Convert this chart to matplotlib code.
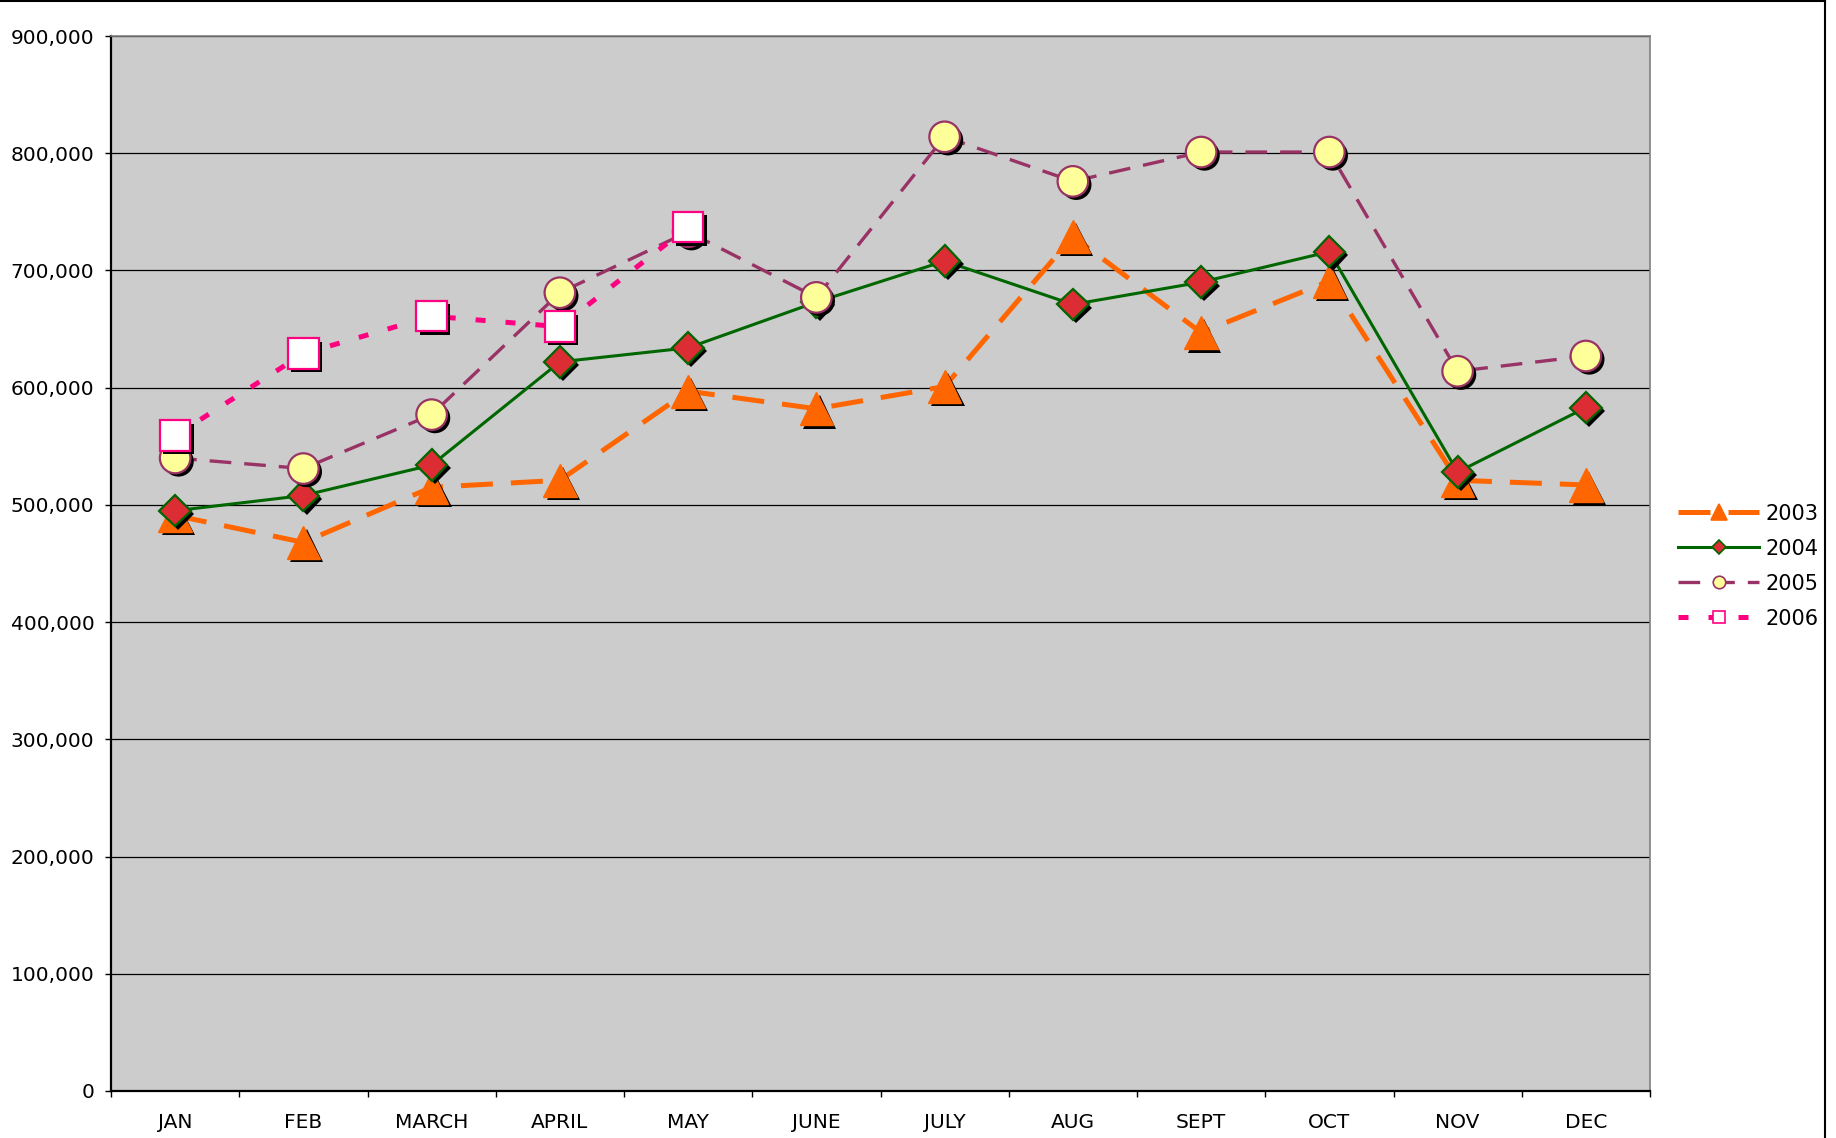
import matplotlib
matplotlib.use('Agg')
import matplotlib.pyplot as plt
from matplotlib.lines import Line2D
import matplotlib.patheffects as pe
from matplotlib.ticker import FuncFormatter, FixedLocator

months = ["JAN", "FEB", "MARCH", "APRIL", "MAY", "JUNE", "JULY", "AUG", "SEPT", "OCT", "NOV", "DEC"]
sales_2003 = [491000, 468000, 515000, 521000, 597000, 582000, 601000, 729000, 647000, 691000, 521000, 517000]
sales_2004 = [495000, 508000, 534000, 622000, 634000, 673000, 708000, 671000, 690000, 716000, 528000, 583000]
sales_2005 = [540000, 531000, 577000, 681000, 733000, 677000, 814000, 776000, 801000, 801000, 614000, 627000]
sales_2006 = [559000, 629000, 661000, 652000, 737000]
series_labels = ["2003", "2004", "2005", "2006"]
y_ticks = [0, 100000, 200000, 300000, 400000, 500000, 600000, 700000, 800000, 900000]

styles = [
    dict(color='#FF6600', lw=3.6, dashes=[6.4, 3.6], marker='^', ms=24, mfc='#FF6600', mec='#FF6600', mew=1.0,
         lms=11),
    dict(color='#006600', lw=2.2, dashes=None, marker='D', ms=16, mfc='#DC2D34', mec='#006600', mew=1.6,
         lms=7.5),
    dict(color='#993366', lw=2.4, dashes=[6.5, 3.9], marker='o', ms=22, mfc='#FFFF99', mec='#993366', mew=1.6,
         lms=9),
    dict(color='#FF0080', lw=3.6, dashes=[2.0, 4.0], marker='s', ms=22, mfc='white', mec='#FF0080', mew=1.6,
         lms=8.5),
]

fig = plt.figure(figsize=(18.36, 11.38), dpi=100)
fig.patch.set_facecolor('white')
ax = fig.add_axes([111 / 1836, 47 / 1138, (1650 - 111) / 1836, (1091 - 36) / 1138])
ax.set_facecolor('#CCCCCC')

shadow = pe.SimplePatchShadow(offset=(2.4, -2.4), shadow_rgbFace='black', alpha=1.0, foreground='black')

all_series = [sales_2003, sales_2004, sales_2005, sales_2006]
handles = []
for i, (vals, st, lab) in enumerate(zip(all_series, styles, series_labels)):
    x = list(range(len(vals)))
    kw = dict(color=st['color'], lw=st['lw'], zorder=3 + 2 * i)
    if st['dashes'] is not None:
        kw['dashes'] = st['dashes']
    ax.plot(x, vals, solid_capstyle='butt', dash_capstyle='butt', **kw)
    ax.plot(x, vals, linestyle='none', marker=st['marker'], ms=st['ms'], mfc=st['mfc'], mec=st['mec'],
            mew=st['mew'], zorder=4 + 2 * i, path_effects=[shadow, pe.Normal()])
    hkw = dict(color=st['color'], lw=st['lw'], marker=st['marker'], ms=st['lms'], mfc=st['mfc'],
               mec=st['mec'], mew=1.2)
    if st['dashes'] is not None:
        hkw['dashes'] = st['dashes']
    handles.append(Line2D([], [], **hkw))

ax.set_xlim(-0.5, 11.5)
ax.set_ylim(0, 900000)
ax.yaxis.set_major_locator(FixedLocator(y_ticks))
ax.yaxis.set_major_formatter(FuncFormatter(lambda v, p: f"{int(v):,}"))
ax.xaxis.set_major_locator(FixedLocator(list(range(len(months)))))
ax.set_xticklabels(months)
ax.xaxis.set_minor_locator(FixedLocator([k - 0.5 for k in range(len(months) + 1)]))
ax.tick_params(axis='x', which='major', length=0, pad=16, labelsize=14.5, colors='black')
ax.tick_params(axis='x', which='minor', length=4.5, width=1.0, color='black')
ax.tick_params(axis='y', which='major', length=4.5, width=1.0, pad=7.5, labelsize=14.5, colors='black')

ax.grid(axis='y', color='black', lw=0.9, zorder=1)
ax.set_axisbelow(True)
for s in ['left', 'bottom']:
    ax.spines[s].set_color('black')
    ax.spines[s].set_linewidth(1.6)
for s in ['top', 'right']:
    ax.spines[s].set_color('#808080')
    ax.spines[s].set_linewidth(1.2)

leg = fig.legend(handles, series_labels, loc='center left', bbox_to_anchor=(1678 / 1836, 1 - 566 / 1138),
                 frameon=False, fontsize=15, handlelength=3.9, handletextpad=0.3, labelspacing=0.72,
                 borderpad=0, borderaxespad=0)

fig.add_artist(Line2D([0, 1825 / 1836], [1 - 1 / 1138, 1 - 1 / 1138], color='black', lw=1.5,
                      transform=fig.transFigure))
fig.add_artist(Line2D([1825 / 1836, 1825 / 1836], [0, 1], color='black', lw=1.5, transform=fig.transFigure))

fig.savefig('out.png', dpi=100, facecolor='white')
